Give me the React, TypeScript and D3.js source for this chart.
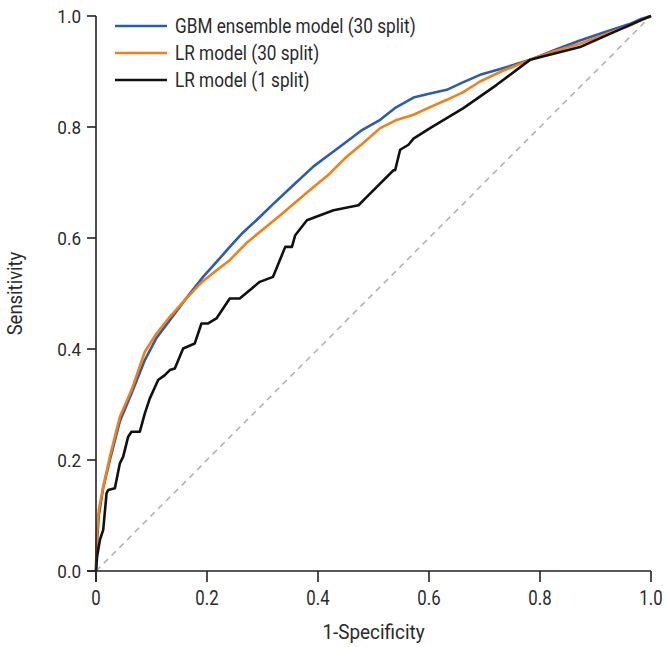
import React from "react";
import * as d3 from "d3";

const xTicks = [0, 0.2, 0.4, 0.6, 0.8, 1.0];
const yTicks = [0, 0.2, 0.4, 0.6, 0.8, 1.0];
const xTickLabels = ["0", "0.2", "0.4", "0.6", "0.8", "1.0"];
const yTickLabels = ["0.0", "0.2", "0.4", "0.6", "0.8", "1.0"];

const seriesNames = ["GBM ensemble model (30 split)", "LR model (30 split)", "LR model (1 split)"];
const seriesColors = ["#2b5cb3", "#f28018", "#111111"];

// [fpr, tpr]
const gbm: [number, number][] = [
  [0, 0], [0.001, 0.04], [0.005, 0.1], [0.013, 0.15], [0.025, 0.2], [0.043, 0.27], [0.064, 0.32],
  [0.088, 0.38], [0.109, 0.42], [0.133, 0.452], [0.16, 0.488], [0.193, 0.53], [0.22, 0.56],
  [0.241, 0.584], [0.265, 0.61], [0.289, 0.632], [0.32, 0.662], [0.35, 0.69], [0.392, 0.729],
  [0.42, 0.75], [0.452, 0.774], [0.48, 0.795], [0.512, 0.813], [0.54, 0.835], [0.572, 0.853],
  [0.6, 0.86], [0.632, 0.867], [0.66, 0.88], [0.692, 0.894], [0.73, 0.905], [0.782, 0.921],
  [0.83, 0.94], [0.872, 0.956], [0.92, 0.972], [0.96, 0.985], [0.983, 0.995], [1, 1],
];
const lr30: [number, number][] = [
  [0, 0], [0.001, 0.05], [0.002, 0.07], [0.005, 0.11], [0.013, 0.152], [0.025, 0.206], [0.043, 0.278],
  [0.064, 0.326], [0.088, 0.395], [0.109, 0.428], [0.133, 0.458], [0.16, 0.488], [0.19, 0.52],
  [0.215, 0.54], [0.241, 0.56], [0.27, 0.59], [0.3, 0.615], [0.332, 0.641], [0.36, 0.665],
  [0.392, 0.692], [0.42, 0.715], [0.452, 0.747], [0.48, 0.77], [0.512, 0.798], [0.54, 0.812],
  [0.572, 0.822], [0.6, 0.835], [0.632, 0.849], [0.66, 0.862], [0.692, 0.882], [0.73, 0.9],
  [0.782, 0.921], [0.83, 0.938], [0.872, 0.95], [0.92, 0.968], [0.96, 0.982], [0.983, 0.993], [1, 1],
];
const lr1: [number, number][] = [
  [0, 0], [0.002, 0.026], [0.007, 0.056], [0.013, 0.074], [0.019, 0.14], [0.022, 0.146],
  [0.034, 0.149], [0.043, 0.194], [0.049, 0.206], [0.058, 0.242], [0.064, 0.251], [0.079, 0.251],
  [0.088, 0.284], [0.097, 0.311], [0.112, 0.344], [0.124, 0.353], [0.133, 0.362], [0.142, 0.365],
  [0.157, 0.401], [0.178, 0.41], [0.19, 0.446], [0.202, 0.446], [0.217, 0.455], [0.241, 0.491],
  [0.259, 0.491], [0.295, 0.521], [0.319, 0.53], [0.341, 0.584], [0.353, 0.584], [0.359, 0.605],
  [0.38, 0.632], [0.404, 0.641], [0.428, 0.65], [0.473, 0.659], [0.488, 0.674], [0.536, 0.722],
  [0.539, 0.722], [0.548, 0.759], [0.563, 0.768], [0.572, 0.779], [0.602, 0.798], [0.662, 0.834],
  [0.722, 0.876], [0.782, 0.921], [0.872, 0.944], [0.983, 0.993], [1, 1],
];
const seriesData = [gbm, lr30, lr1];
const diagonal: [number, number][] = [[0, 0], [1, 1]];

const W = 668, H = 647;
const L = 96, R = 651, T = 16, B = 571;
const FONT = "Roboto, 'Liberation Sans', sans-serif";
const TXT = "#2a2a2a";

function CText(props: {
  x: number; y: number; size: number; sx: number; anchor?: string; rotate?: number; children: string;
}) {
  const { x, y, size, sx, anchor = "start", rotate = 0, children } = props;
  return (
    <text
      transform={`translate(${x},${y}) rotate(${rotate}) scale(${sx},1)`}
      textAnchor={anchor}
      fontSize={size}
      fill={TXT}
    >
      {children}
    </text>
  );
}

export default function App() {
  const x = d3.scaleLinear().domain([0, 1]).range([L, R]);
  const y = d3.scaleLinear().domain([0, 1]).range([B, T]);
  const line = d3.line<[number, number]>().x((d) => x(d[0])).y((d) => y(d[1]));
  const legendY = [26, 53, 80];

  return (
    <svg width={W} height={H} style={{ position: "absolute", left: 0, top: 0, background: "#fff" }} fontFamily={FONT}>
      <path d={line(diagonal) || ""} fill="none" stroke="#aaaaaa" strokeWidth={1.4} strokeDasharray="6,5" />
      {seriesData.map((s, i) => (
        <path key={i} d={line(s) || ""} fill="none" stroke={seriesColors[i]} strokeWidth={2.6} strokeLinejoin="round" />
      ))}
      {/* axes */}
      <line x1={L - 9} x2={R} y1={B} y2={B} stroke="#222" strokeWidth={1.6} />
      <line x1={L} x2={L} y1={T} y2={B + 11} stroke="#222" strokeWidth={1.6} />
      {xTicks.map((t, i) => (
        <g key={"x" + i}>
          <line x1={x(t)} x2={x(t)} y1={B} y2={B + 11} stroke="#222" strokeWidth={1.6} />
          <CText x={x(t)} y={605} size={20} sx={0.84} anchor="middle">{xTickLabels[i]}</CText>
        </g>
      ))}
      {yTicks.map((t, i) => (
        <g key={"y" + i}>
          <line x1={L - 9} x2={L} y1={y(t)} y2={y(t)} stroke="#222" strokeWidth={1.6} />
          <CText x={81} y={y(t) + 6.5} size={19} sx={0.9} anchor="end">{yTickLabels[i]}</CText>
        </g>
      ))}
      <CText x={(L + R) / 2} y={639} size={21} sx={0.9} anchor="middle">1-Specificity</CText>
      <CText x={22} y={(T + B) / 2} size={21} sx={0.88} anchor="middle" rotate={-90}>Sensitivity</CText>
      {/* legend */}
      {seriesNames.map((n, i) => (
        <g key={"lg" + i}>
          <line x1={115} x2={167} y1={legendY[i]} y2={legendY[i]} stroke={seriesColors[i]} strokeWidth={2.6} />
          <CText x={175} y={legendY[i] + 7} size={20} sx={0.86}>{n}</CText>
        </g>
      ))}
    </svg>
  );
}
